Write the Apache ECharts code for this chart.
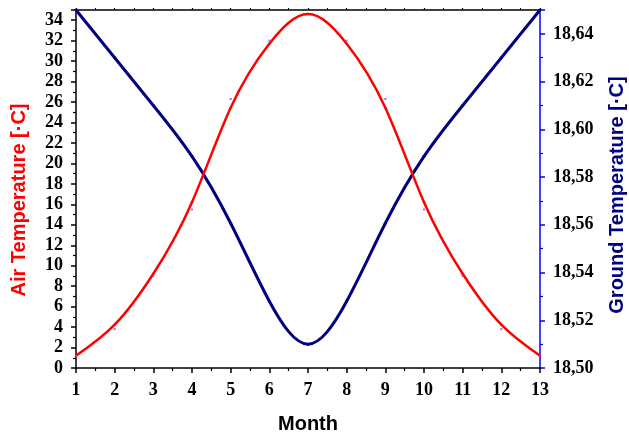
<!DOCTYPE html>
<html><head><meta charset="utf-8">
<script src="https://cdn.jsdelivr.net/npm/echarts@6/dist/echarts.min.js"></script>
<style>html,body{margin:0;padding:0;background:#fff}#c{width:629px;height:439px}</style>
</head><body><div id="c"></div>
<script>
const months = [1,2,3,4,5,6,7,8,9,10,11,12,13];
const airTemp = [1.2, 3.8, 9.0, 15.5, 26.3, 32.0, 35.9, 32.0, 26.3, 15.5, 9.0, 3.8, 1.2];
const groundTemp = [18.65, 18.63, 18.61, 18.59, 18.562, 18.526, 18.502, 18.526, 18.562, 18.59, 18.61, 18.63, 18.65];
const airTicks = {min: 0, max: 35, interval: 2};
const groundTicks = {min: 18.50, max: 18.65, interval: 0.02};

// cubic B-spline line (control points = data points), drawn as bezier pieces via the axes' coord mapping
function bsplineSeries(ys, yAxisIndex, color, width, z) {
  const n = months.length - 1;
  const P = i => {
    if (i < 0) return [2 * months[0] - months[1], 2 * ys[0] - ys[1]];
    if (i > n) return [2 * months[n] - months[n - 1], 2 * ys[n] - ys[n - 1]];
    return [months[i], ys[i]];
  };
  const data = [];
  for (let i = 0; i < n; i++) data.push([months[i], ys[i], months[i + 1], ys[i + 1], i]);
  return {
    type: 'custom', xAxisIndex: 0, yAxisIndex: yAxisIndex, z: z,
    encode: {x: [0, 2], y: [1, 3]},
    data: data,
    renderItem: function (params, api) {
      const i = api.value(4);
      const a = P(i - 1), b = P(i), c = P(i + 1), d = P(i + 2);
      const mix = (w0, w1, w2) => [0, 1].map(k => (w0 * a[k] + w1 * b[k] + w2 * c[k]));
      const B0 = [0, 1].map(k => (a[k] + 4 * b[k] + c[k]) / 6);
      const B1 = [0, 1].map(k => (2 * b[k] + c[k]) / 3);
      const B2 = [0, 1].map(k => (b[k] + 2 * c[k]) / 3);
      const B3 = [0, 1].map(k => (b[k] + 4 * c[k] + d[k]) / 6);
      const p0 = api.coord(B0), c0 = api.coord(B1), c1 = api.coord(B2), p1 = api.coord(B3);
      return {
        type: 'bezierCurve',
        shape: {x1: p0[0], y1: p0[1], x2: p1[0], y2: p1[1], cpx1: c0[0], cpy1: c0[1], cpx2: c1[0], cpy2: c1[1]},
        style: {stroke: color, lineWidth: width, fill: null, lineCap: 'round'}
      };
    }
  };
}

const chart = echarts.init(document.getElementById('c'), null, {renderer: 'canvas'});
const tickFont = {fontFamily: 'Liberation Serif', fontWeight: 'bold', fontSize: 18, color: '#000'};
chart.setOption({
  animation: false,
  grid: {left: 76, right: 89, top: 10, bottom: 66, containLabel: false},
  xAxis: [{
    type: 'value', min: 1, max: 13, interval: 1, position: 'bottom',
    axisLine: {lineStyle: {color: '#000', width: 1.5}},
    axisTick: {show: true, length: 5, lineStyle: {color: '#000', width: 1.5}},
    minorTick: {show: true, splitNumber: 2, length: 3, lineStyle: {color: '#000', width: 1.2}},
    axisLabel: Object.assign({margin: 13}, tickFont),
    splitLine: {show: false},
    name: 'Month', nameLocation: 'middle', nameGap: 46,
    nameTextStyle: {fontFamily: 'Liberation Sans', fontWeight: 'bold', fontSize: 20, color: '#000'}
  }, {
    type: 'value', min: 1, max: 13, interval: 1, position: 'top',
    axisLine: {show: true, lineStyle: {color: '#000', width: 1.5}},
    axisTick: {show: true, length: 2, lineStyle: {color: '#000', width: 1.2}},
    minorTick: {show: true, splitNumber: 2, length: 2, lineStyle: {color: '#000', width: 1}},
    axisLabel: {show: false}, splitLine: {show: false}
  }],
  yAxis: [{
    type: 'value', min: airTicks.min, max: airTicks.max, interval: airTicks.interval, position: 'left',
    axisLine: {show: true, lineStyle: {color: '#000', width: 1.5}},
    axisTick: {show: true, length: 5, lineStyle: {color: '#000', width: 1.5}},
    minorTick: {show: true, splitNumber: 2, length: 3, lineStyle: {color: '#000', width: 1.2}},
    axisLabel: Object.assign({margin: 13, showMaxLabel: false}, tickFont),
    splitLine: {show: false}
  }, {
    type: 'value', min: groundTicks.min, max: groundTicks.max, interval: groundTicks.interval, position: 'right',
    axisLine: {show: true, lineStyle: {color: '#0000ff', width: 1.5}},
    axisTick: {show: true, length: 5, lineStyle: {color: '#0000ff', width: 1.5}},
    minorTick: {show: true, splitNumber: 2, length: 3, lineStyle: {color: '#0000ff', width: 1.2}},
    axisLabel: Object.assign({margin: 13, showMaxLabel: false,
      formatter: v => v.toFixed(2).replace('.', ',')}, tickFont),
    splitLine: {show: false}
  }],
  graphic: [{
    type: 'text', x: 19, y: 200, rotation: Math.PI / 2,
    style: {text: 'Air Temperature [·C]', fill: '#ff0000', font: 'bold 20px "Liberation Sans"',
      textAlign: 'center', textVerticalAlign: 'middle'}
  }, {
    type: 'text', x: 617, y: 195, rotation: Math.PI / 2,
    style: {text: 'Ground Temperature [·C]', fill: '#000080', font: 'bold 20px "Liberation Sans"',
      textAlign: 'center', textVerticalAlign: 'middle'}
  }],
  series: [
    bsplineSeries(groundTemp, 1, '#000080', 3, 2),
    bsplineSeries(airTemp, 0, '#ff0000', 2.5, 3),
    {
      type: 'scatter', xAxisIndex: 0, yAxisIndex: 0, z: 4, clip: true,
      data: months.map((m, i) => [m, airTemp[i]]),
      symbol: 'rect', symbolSize: 2, itemStyle: {color: '#9933ff'}
    }
  ]
});
</script></body></html>
